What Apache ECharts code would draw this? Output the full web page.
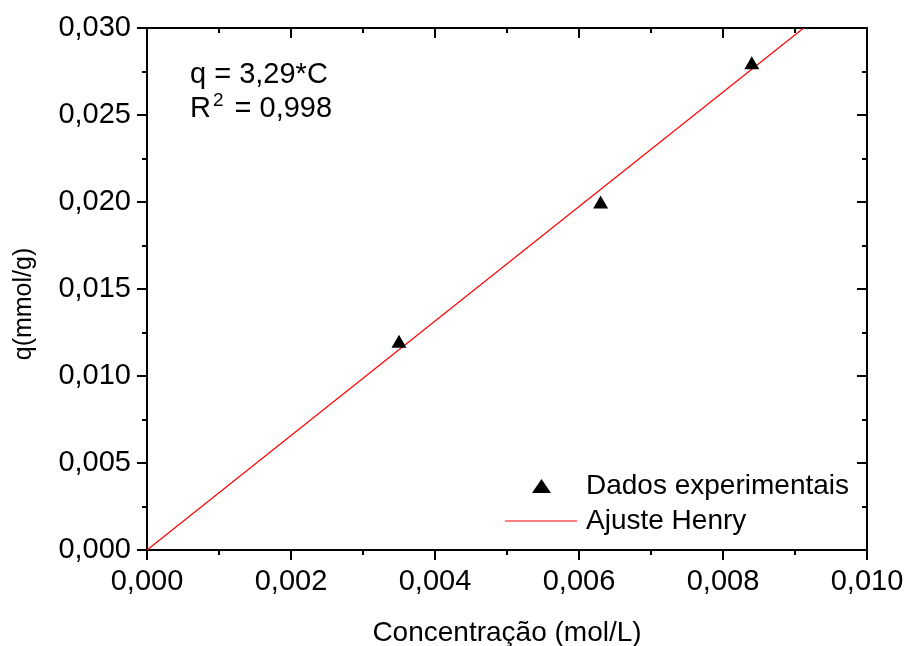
<!DOCTYPE html>
<html>
<head>
<meta charset="utf-8">
<script src="https://cdn.jsdelivr.net/npm/echarts@6/dist/echarts.min.js"></script>
<style>
  html, body { margin: 0; padding: 0; background: #fff; }
  #chart { width: 907px; height: 646px; }
</style>
</head>
<body>
<div id="chart"></div>
<script>
// pontos experimentais (C, q)
const dadosC = [0.0035, 0.0063, 0.0084]
const dadosQ = [0.012, 0.020, 0.028]
// reta de ajuste de Henry (extremos)
const ajusteC = [0, 0.00912]
const ajusteQ = [0, 0.030]

const fonte = 'Liberation Sans, Arial, sans-serif'
const virgula = v => v.toFixed(3).replace('.', ',')

const chart = echarts.init(document.getElementById('chart'))

const linhaPreta = { color: '#000', width: 2 }

function eixo(min, max, interval, extra) {
  return Object.assign({
    type: 'value',
    min: min,
    max: max,
    interval: interval,
    axisLine: { onZero: false, lineStyle: linhaPreta },
    splitLine: { show: false },
    minorTick: { show: true, splitNumber: 2, length: 5, lineStyle: linhaPreta },
    axisTick: { length: 10, lineStyle: linhaPreta }
  }, extra)
}

chart.setOption({
  animation: false,
  backgroundColor: '#fff',
  grid: { left: 147, right: 40, top: 28, bottom: 96, outerBoundsMode: 'none' },
  xAxis: [
    eixo(0, 0.010, 0.002, {
      position: 'bottom',
      name: 'Concentração (mol/L)',
      nameLocation: 'middle',
      nameGap: 69,
      nameTextStyle: { color: '#000', fontSize: 28, fontFamily: fonte },
      axisLabel: { color: '#000', fontSize: 29, fontFamily: fonte, margin: 17, formatter: virgula }
    }),
    eixo(0, 0.010, 0.002, {
      position: 'top',
      axisTick: { inside: true, length: 10, lineStyle: linhaPreta },
      minorTick: { show: true, splitNumber: 2, length: 5, lineStyle: linhaPreta },
      axisLabel: { show: false }
    })
  ],
  yAxis: [
    eixo(0, 0.030, 0.005, {
      position: 'left',
      name: 'q(mmol/g)',
      nameLocation: 'middle',
      nameGap: 110,
      nameTextStyle: { color: '#000', fontSize: 25, fontFamily: fonte, padding: [0, 30, 0, 0] },
      axisLabel: { color: '#000', fontSize: 29, fontFamily: fonte, margin: 16, formatter: virgula }
    }),
    eixo(0, 0.030, 0.005, {
      position: 'right',
      axisTick: { inside: true, length: 10, lineStyle: linhaPreta },
      minorTick: { show: true, splitNumber: 2, length: 5, lineStyle: linhaPreta },
      axisLabel: { show: false }
    })
  ],
  legend: [
    {
      left: 532,
      top: 472,
      padding: 0,
      icon: 'triangle',
      itemWidth: 19,
      itemHeight: 14,
      itemStyle: { opacity: 1 },
      textStyle: { color: '#000', fontSize: 28, fontFamily: fonte, padding: [0, 0, 0, 30] },
      data: ['Dados experimentais']
    },
    {
      left: 505,
      top: 507,
      padding: 0,
      icon: 'rect',
      itemWidth: 72,
      itemHeight: 1.2,
      textStyle: { color: '#000', fontSize: 28, fontFamily: fonte, padding: [0, 0, 0, 4] },
      data: ['Ajuste Henry']
    }
  ],
  graphic: [
    {
      type: 'text',
      left: 190,
      top: 60,
      style: { text: 'q = 3,29*C', fill: '#000', fontSize: 29, fontFamily: fonte }
    },
    {
      type: 'text',
      left: 190,
      top: 91,
      style: {
        text: 'R{sup|2} = 0,998',
        fill: '#000',
        fontSize: 29,
        fontFamily: fonte,
        rich: { sup: { fontSize: 19, fontFamily: fonte, verticalAlign: 'top', padding: [0, 3, 16, 2] } }
      }
    }
  ],
  series: [
    {
      name: 'Ajuste Henry',
      type: 'line',
      showSymbol: false,
      symbol: 'none',
      lineStyle: { color: '#ff0000', width: 1.2 },
      itemStyle: { color: '#ff0000' },
      data: ajusteC.map((c, i) => [c, ajusteQ[i]]),
      z: 2
    },
    {
      name: 'Dados experimentais',
      type: 'scatter',
      symbol: 'triangle',
      symbolSize: [15, 13],
      itemStyle: { color: '#000', opacity: 1 },
      data: dadosC.map((c, i) => [c, dadosQ[i]]),
      z: 3
    },
    {
      // série vazia só para ligar os eixos de cima e da direita
      type: 'line',
      xAxisIndex: 1,
      yAxisIndex: 1,
      silent: true,
      data: []
    }
  ]
})
</script>
</body>
</html>
